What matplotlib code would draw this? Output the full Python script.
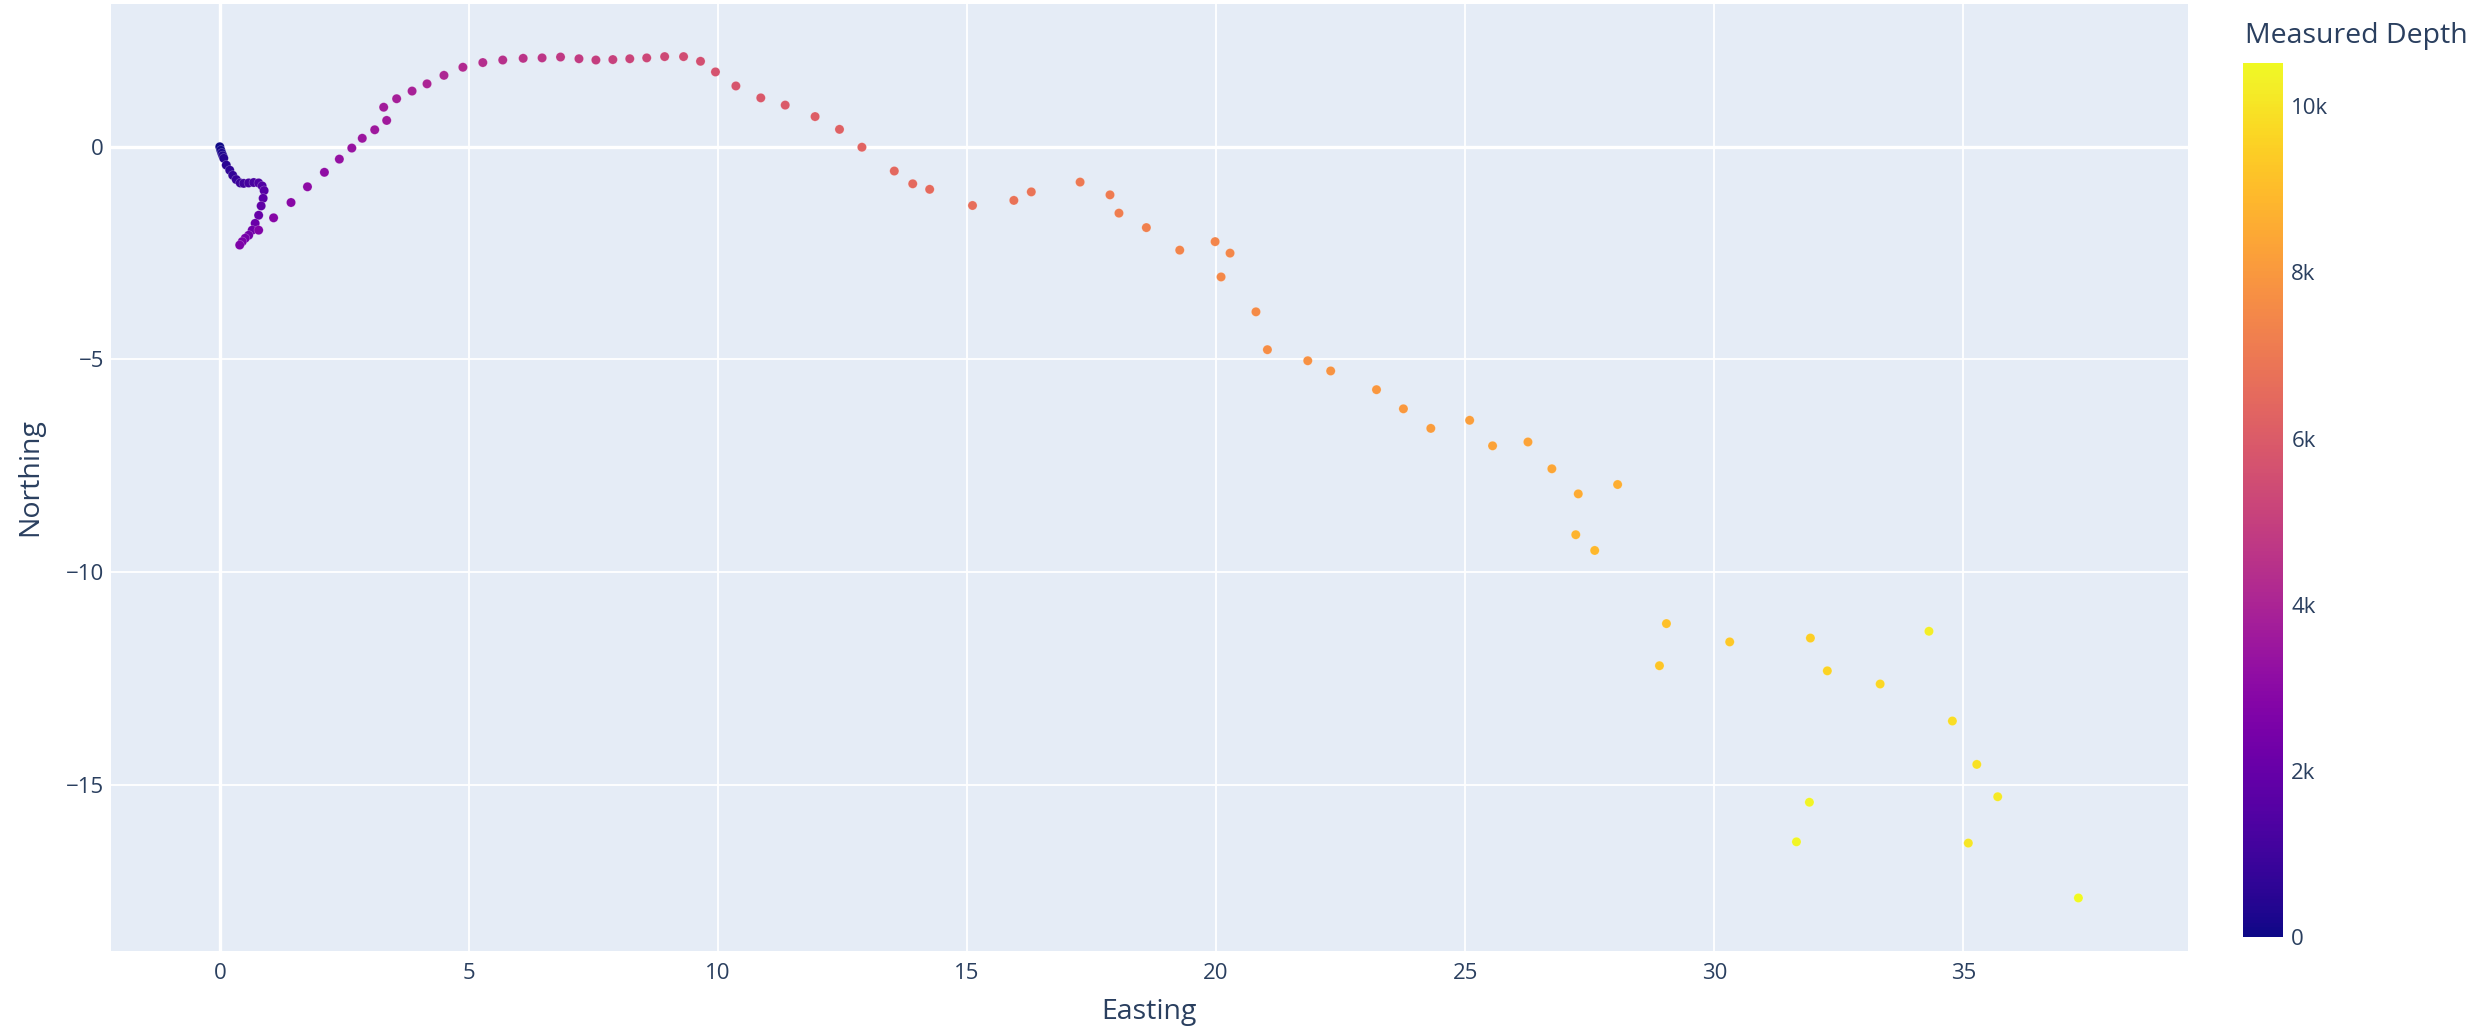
import matplotlib.pyplot as plt
from matplotlib.ticker import FuncFormatter

# well survey
easting = [0.00, 0.02, 0.04, 0.06, 0.08, 0.13, 0.20, 0.26, 0.33, 0.41,
           0.48, 0.58, 0.68, 0.78, 0.85, 0.89, 0.87, 0.83, 0.78, 0.71,
           0.65, 0.58, 0.51, 0.45, 0.40, 0.78, 1.08, 1.43, 1.76, 2.10,
           2.40, 2.65, 2.86, 3.11, 3.35, 3.29, 3.55, 3.86, 4.16, 4.50,
           4.88, 5.28, 5.68, 6.09, 6.47, 6.84, 7.21, 7.55, 7.89, 8.23,
           8.57, 8.93, 9.31, 9.65, 9.95, 10.36, 10.86, 11.35, 11.95, 12.44,
           12.89, 13.54, 13.91, 14.25, 15.11, 15.94, 16.29, 17.27, 17.87, 18.05,
           18.60, 19.27, 19.98, 20.28, 20.10, 20.80, 21.03, 21.84, 22.30, 23.22,
           23.76, 24.31, 25.09, 25.55, 26.26, 26.74, 27.27, 28.06, 27.22, 27.60,
           29.04, 28.90, 30.31, 31.93, 32.27, 33.33, 34.78, 35.27, 35.10, 35.69,
           34.31, 31.91, 31.65, 37.31]
northing = [0.00, -0.08, -0.15, -0.21, -0.27, -0.43, -0.55, -0.67, -0.77, -0.85,
            -0.86, -0.85, -0.84, -0.85, -0.92, -1.03, -1.21, -1.39, -1.61, -1.80,
            -1.96, -2.08, -2.15, -2.23, -2.31, -1.96, -1.67, -1.31, -0.94, -0.60,
            -0.29, -0.03, 0.20, 0.40, 0.62, 0.93, 1.13, 1.31, 1.48, 1.68,
            1.87, 1.98, 2.04, 2.08, 2.09, 2.11, 2.07, 2.04, 2.05, 2.07,
            2.09, 2.12, 2.12, 2.01, 1.76, 1.43, 1.15, 0.98, 0.71, 0.41,
            -0.01, -0.57, -0.87, -1.00, -1.38, -1.26, -1.06, -0.83, -1.13, -1.56,
            -1.90, -2.43, -2.23, -2.50, -3.06, -3.88, -4.77, -5.03, -5.27, -5.71,
            -6.16, -6.62, -6.43, -7.03, -6.94, -7.57, -8.16, -7.94, -9.12, -9.49,
            -11.21, -12.20, -11.64, -11.55, -12.32, -12.63, -13.50, -14.52, -16.37, -15.28,
            -11.39, -15.41, -16.34, -17.66]
measured_depth = [0, 105, 210, 315, 420, 525, 630, 735, 840, 945,
                  1050, 1155, 1260, 1370, 1475, 1580, 1685, 1840, 2000, 2105,
                  2210, 2315, 2420, 2525, 2630, 2735, 2840, 2945, 3050, 3155,
                  3260, 3365, 3470, 3575, 3630, 3680, 3785, 3890, 4000, 4105,
                  4210, 4315, 4420, 4525, 4630, 4735, 4840, 4945, 5050, 5155,
                  5260, 5365, 5470, 5575, 5680, 5785, 5890, 5995, 6100, 6205,
                  6310, 6415, 6470, 6520, 6630, 6785, 6840, 6995, 7100, 7155,
                  7260, 7365, 7415, 7470, 7520, 7575, 7680, 7785, 7835, 7945,
                  7995, 8100, 8155, 8260, 8310, 8415, 8520, 8625, 8785, 8890,
                  9100, 9205, 9310, 9470, 9575, 9680, 9835, 9940, 10045, 10150,
                  10255, 10360, 10415, 10520]

x_ticks = [0, 5, 10, 15, 20, 25, 30, 35]
y_ticks = [-15, -10, -5, 0]
cbar_ticks = [0, 2000, 4000, 6000, 8000, 10000]

W, H = 2491, 1030
txt = "#2a3f5f"
plt.rcParams['font.family'] = ['Open Sans', 'DejaVu Sans']

fig = plt.figure(figsize=(W / 100, H / 100), dpi=100)
ax = fig.add_axes([110.7 / W, 1 - 950.7 / H, (2188 - 110.7) / W, (950.7 - 4.3) / H])
ax.set_facecolor("#E5ECF6")
for s in ax.spines.values():
    s.set_visible(False)

sc = ax.scatter(easting, northing, c=measured_depth, cmap="plasma", vmin=0, vmax=10520,
                s=44, linewidths=0.4, edgecolors=(1, 1, 1, 0.35), zorder=3)

ax.set_xlim(-2.19, 39.51)
ax.set_ylim(-18.9, 3.35)
ax.set_xticks(x_ticks)
ax.set_yticks(y_ticks)
ax.set_yticklabels(["\u221215", "\u221210", "\u22125", "0"])
ax.grid(True, color="white", linewidth=1.3, zorder=0)
ax.axhline(0, color="white", linewidth=2.4, zorder=1)
ax.axvline(0, color="white", linewidth=2.4, zorder=1)
ax.set_axisbelow(True)
ax.tick_params(length=0, labelsize=16, labelcolor=txt)
ax.tick_params(axis="x", pad=9)
ax.tick_params(axis="y", pad=5)
ax.set_xlabel("Easting", fontsize=20.5, color=txt, labelpad=10)
ax.set_ylabel("Northing", fontsize=20.5, color=txt, labelpad=15)

cax = fig.add_axes([2243 / W, 1 - 937 / H, 40 / W, (937 - 63) / H])
cb = fig.colorbar(sc, cax=cax)
cb.outline.set_visible(False)
cb.set_ticks(cbar_ticks)
cb.ax.yaxis.set_major_formatter(FuncFormatter(lambda v, p: "0" if v == 0 else f"{int(v / 1000)}k"))
cb.ax.tick_params(length=0, labelsize=16, labelcolor=txt, pad=6)
fig.text(2245 / W, 1 - 43 / H, "Measured Depth", fontsize=20.5, color=txt, va="baseline", ha="left")

plt.savefig("out.png", dpi=100)
